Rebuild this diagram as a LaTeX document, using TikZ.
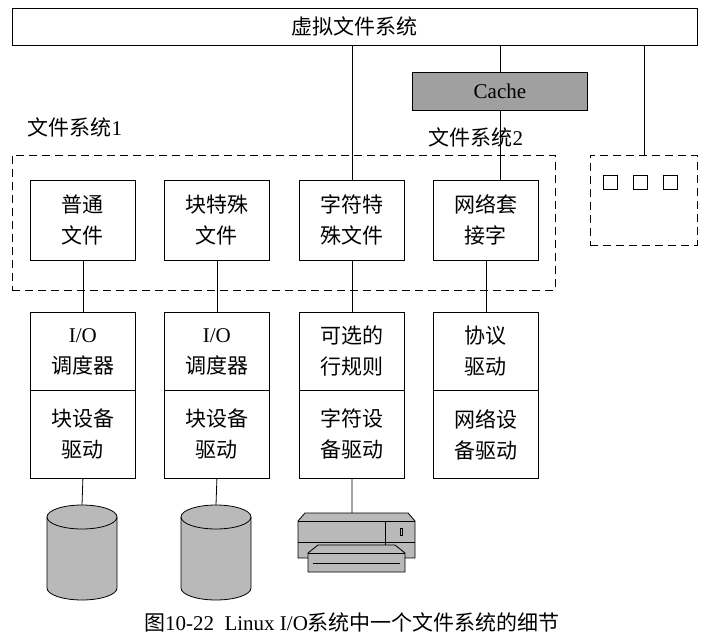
\documentclass[tikz,border=0pt]{standalone}
\usepackage{fontspec}
\setmainfont{Noto Sans CJK SC}
\newfontfamily\en{Liberation Serif}
\usetikzlibrary{positioning}
\definecolor{my_gray}{RGB}{160, 160, 160}
\definecolor{my_disk}{RGB}{185, 185, 185}
\tikzset {
  layer/.style = {draw, thick, rectangle, minimum width=105pt, minimum height=80pt, align=center, font=\fontsize{21}{31}\selectfont, anchor=north west, inner sep=0pt},
  line/.style = {thick, color=black},
  group/.style = {draw, thick, dashed, dash pattern=on 8pt off 5pt, rectangle, anchor=north west, inner sep=0pt},
  txt/.style = {font=\fontsize{21}{24}\selectfont}
}
\newcommand{\diskat}[1]{%
  \filldraw[thick, fill=my_disk] (#1) ++(-35,12) -- ++(0,71) arc[start angle=180, end angle=360, x radius=35, y radius=-12] -- ++(0,-71) arc[start angle=0, end angle=180, x radius=35, y radius=-12] -- cycle;
  \draw[thick] (#1) ++(-35,12) arc[start angle=180, end angle=360, x radius=35, y radius=-12];
}
\begin{document}
\begin{tikzpicture}[x=1pt, y=-1pt]
    \useasboundingbox[fill=white] (0,0) rectangle (710,642);

    \node[draw, thick, anchor=north west, minimum width=685pt, minimum height=37pt, inner sep=0pt, txt] (vfs) at (12,8) {虚拟文件系统};
    \node[draw, thick, fill=my_gray, anchor=north west, minimum width=175pt, minimum height=38pt, inner sep=0pt, txt] (cache) at (412,72) {\en Cache};

    \node[txt, anchor=west] (fs1) at (24,127) {文件系统\en 1};
    \node[txt, anchor=west] (fs2) at (425,137) {文件系统\en 2};

    \node[group, minimum width=543pt, minimum height=135pt] (grp) at (12,155) {};
    \node[group, minimum width=107pt, minimum height=90pt] (other) at (590,155) {};
    \foreach \x in {610, 640, 670}
        \draw[thick] (\x-7,175) rectangle (\x+7,189);

    % row 1
    \node[layer] (f1) at (30,180) {普通\\文件};
    \node[layer] (f2) at (164,180) {块特殊\\文件};
    \node[layer] (f3) at (299,180) {字符特\\殊文件};
    \node[layer] (f4) at (433,180) {网络套\\接字};

    % row 2
    \node[layer, minimum height=78pt] (s1) at (30,312) {\en I/O\\调度器};
    \node[layer, minimum height=78pt] (s2) at (164,312) {\en I/O\\调度器};
    \node[layer, minimum height=78pt] (s3) at (299,312) {可选的\\行规则};
    \node[layer, minimum height=78pt] (s4) at (433,312) {协议\\驱动};

    % row 3
    \node[layer, minimum height=88pt] (d1) at (30,390) {块设备\\驱动};
    \node[layer, minimum height=88pt] (d2) at (164,390) {块设备\\驱动};
    \node[layer, minimum height=88pt] (d3) at (299,390) {字符设\\备驱动};
    \node[layer, minimum height=88pt] (d4) at (433,390) {网络设\\备驱动};

    \draw[line] (vfs.south -| f3) -- (f3.north);
    \draw[line] (vfs.south -| cache) -- (cache.north);
    \draw[line] (cache.south) -- (cache.south |- f4.north);
    \draw[line] (vfs.south -| other) -- (other.north);

    \foreach \i in {1,...,4} {
        \draw[line] (f\i.south) -- (s\i.north);
    }

    % devices
    \coordinate (disk1) at (82,505);
    \coordinate (disk2) at (216,505);
    \coordinate (prn) at (352,513);
    \diskat{disk1}
    \diskat{disk2}
    \draw[line] (d1.south) -- (disk1);
    \draw[line] (d2.south) -- (disk2);
    \draw[line] (d3.south) -- (prn);

    % printer
    \begin{scope}[thick, fill=my_disk]
        \filldraw (298,521) -- (305,513) -- (408,513) -- (415,521) -- (415,558) -- (298,558) -- cycle;
        \draw (298,521) -- (415,521);
        \draw (298,542) -- (415,542);
        \draw (385,521) -- (385,558);
        \draw (400,528) rectangle (402,535);
        \filldraw (308,553) -- (318,545) -- (395,545) -- (405,553) -- (405,572) -- (308,572) -- cycle;
        \draw (308,553) -- (405,553);
        \draw (313,563) -- (400,563);
    \end{scope}

    \node[font=\fontsize{21}{24}\selectfont] (cap) at (352,622) {图\en 10-22\ \ Linux I/O\normalfont 系统中一个文件系统的细节};
\end{tikzpicture}
\end{document}
